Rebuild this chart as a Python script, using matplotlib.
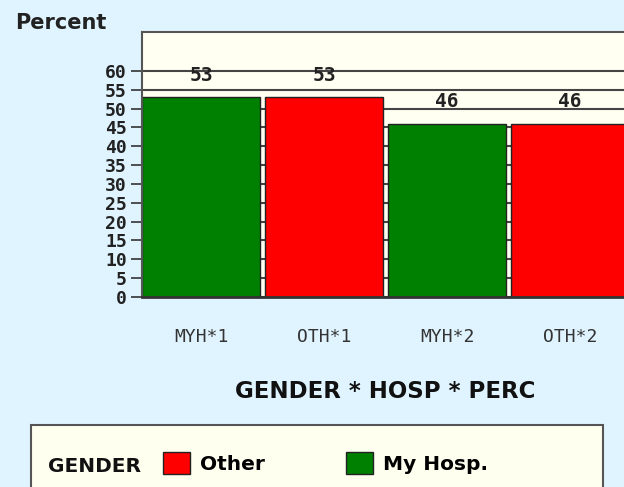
import matplotlib.pyplot as plt
from matplotlib.patches import Rectangle

# data
categories = ['MYH*1', 'OTH*1', 'MYH*2', 'OTH*2']
percents = [53, 53, 46, 46]
genders = ['My Hosp.', 'Other', 'My Hosp.', 'Other']
legend_order = ['Other', 'My Hosp.']
gender_colors = {'Other': '#ff0000', 'My Hosp.': '#008000'}
y_ticks = list(range(0, 61, 5))

mono = ['DejaVu Sans Mono']

fig = plt.figure(figsize=(6.24, 4.87), dpi=100, facecolor='#e0f4ff')
ax = fig.add_axes([142/624, 190/487, 492/624, 265/487])
ax.set_facecolor('#fffff2')

x = list(range(len(categories)))
bars = ax.bar(x, percents, width=0.96,
              color=[gender_colors[g] for g in genders],
              edgecolor='#222222', linewidth=1, zorder=2)

for xi, v in zip(x, percents):
    ax.annotate(str(v), (xi, v), xytext=(0, 9), textcoords='offset points',
                ha='center', va='bottom', fontsize=14, fontweight='bold',
                family=mono, color='#222222')

ax.set_xlim(-0.48, 3.52)
ax.set_ylim(0, 70.3)
ax.set_yticks(y_ticks)
ax.set_yticklabels([str(t) for t in y_ticks], family=mono,
                   fontsize=13, fontweight='bold', color='#222222')
ax.set_xticks(x)
ax.set_xticklabels(categories, family=mono, fontsize=13, color='#333333')
ax.tick_params(axis='x', length=0, pad=22)
ax.tick_params(axis='y', length=8, width=1.2, color='#333333', pad=3)

ax.set_axisbelow(True)
ax.yaxis.grid(True, color='#444444', linewidth=1.5)

for side in ['top', 'left']:
    ax.spines[side].set_color('#555555')
    ax.spines[side].set_linewidth(1.5)
ax.spines['bottom'].set_color('#333333')
ax.spines['bottom'].set_linewidth(2)
ax.spines['right'].set_visible(False)

fig.text(15/624, 1 - 23/487, 'Percent', ha='left', va='center',
         fontsize=15, fontweight='bold', color='#222222')
fig.text(385/624, 1 - 392/487, 'GENDER * HOSP * PERC', ha='center',
         va='center', fontsize=16.5, fontweight='bold', color='#111111')

# legend box
fig.patches.append(Rectangle((31/624, -0.05), 572/624, (487 - 425)/487 + 0.05,
                             transform=fig.transFigure, facecolor='#fffff0',
                             edgecolor='#555555', linewidth=1.5, zorder=0))
fig.text(48/624, 1 - 467/487, 'GENDER', ha='left', va='center',
         fontsize=14.5, fontweight='bold', color='#111111')
handles = [bars[genders.index(g)] for g in legend_order]
fig.legend(handles, legend_order, ncol=2, frameon=False, loc='center left',
           bbox_to_anchor=(145/624, 1 - 463/487),
           prop={'weight': 'bold', 'size': 14.5},
           handlelength=1.35, handleheight=1.25, handletextpad=0.5,
           columnspacing=4.0)

fig.savefig('out.png', dpi=100, facecolor=fig.get_facecolor())
